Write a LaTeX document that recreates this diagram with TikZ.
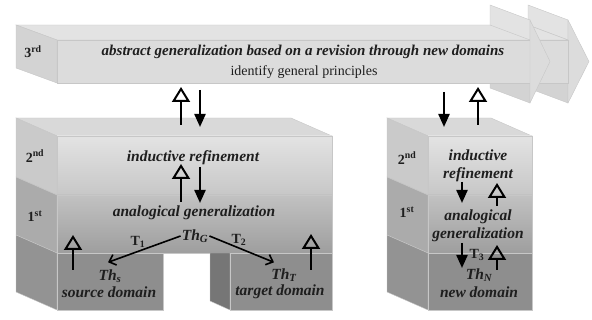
\documentclass[tikz,border=0pt]{standalone}
\usepackage{fontspec}
\setmainfont{Liberation Serif}
\usetikzlibrary{arrows.meta}

\definecolor{bandfront}{HTML}{DCDCDC}
\definecolor{bandtop}{HTML}{E3E3E3}
\definecolor{bandside}{HTML}{D3D3D3}
\definecolor{blocktop}{HTML}{D9D9D9}
\definecolor{sidetwo}{HTML}{CACACA}
\definecolor{sideone}{HTML}{ABABAB}
\definecolor{sidebase}{HTML}{939393}
\definecolor{basefront}{HTML}{8E8E8E}
\definecolor{gapside}{HTML}{767676}
\definecolor{inkgray}{HTML}{1E1E1E}

\begin{document}
\begin{tikzpicture}[x=1pt,y=-1pt,
  face/.style={draw=black!22,line width=0.4pt},
  lvl/.style={font=\fontsize{14}{16}\selectfont\bfseries,text=inkgray},
  ttl/.style={font=\fontsize{15}{17}\selectfont\bfseries\itshape,text=inkgray},
  txt/.style={font=\fontsize{15.5}{18}\selectfont\bfseries\itshape,align=center,text=inkgray},
  tlab/.style={font=\fontsize{14}{16}\selectfont\bfseries,text=inkgray},
  upar/.style={line width=2.2pt,-{Triangle[open,length=15pt,width=18pt,line width=2pt]}},
  dnar/.style={line width=2.2pt,-{Triangle[length=13pt,width=11pt]}},
  tar/.style={line width=1.6pt,-{Straight Barb[length=6pt,width=11pt]}}]
\useasboundingbox (0,0) rectangle (592,320);

% 3rd level band, second head first
\filldraw[face,fill=bandtop] (528,5) -- (568,20) -- (568,40) -- (528,25) -- cycle;
\filldraw[face,fill=bandside] (528,68) -- (568,83) -- (568,103) -- (528,88) -- cycle;
\filldraw[face,fill=bandfront] (568,20) -- (589,61.5) -- (568,103) -- cycle;
\filldraw[face,fill=bandtop] (16,25) -- (528,25) -- (568,40) -- (57,40) -- cycle;
\filldraw[face,fill=bandside] (16,25) -- (57,40) -- (57,83) -- (16,68) -- cycle;
\filldraw[face,fill=bandtop] (490,5) -- (530,20) -- (530,40) -- (490,25) -- cycle;
\filldraw[face,fill=bandside] (490,68) -- (530,83) -- (530,103) -- (490,88) -- cycle;
\filldraw[face,fill=bandfront] (57,40) rectangle (568,83);
\filldraw[face,fill=bandfront] (530,20) -- (550,61.5) -- (530,103) -- cycle;

% left block
\filldraw[face,fill=blocktop] (16,118) -- (291,118) -- (332,136) -- (57,136) -- cycle;
\filldraw[face,fill=sidetwo] (16,118) -- (57,136) -- (57,195) -- (16,177) -- cycle;
\filldraw[face,fill=sideone] (16,177) -- (57,195) -- (57,253) -- (16,235) -- cycle;
\filldraw[face,fill=sidebase] (16,235) -- (57,253) -- (57,310) -- (16,292) -- cycle;
\shadedraw[face,top color=black!11,bottom color=black!22] (57,136) rectangle (332,195);
\shadedraw[face,top color=black!24,bottom color=black!38] (57,195) rectangle (332,253);
\filldraw[face,fill=basefront] (57,253) rectangle (163,310);
\filldraw[face,fill=gapside] (210,253) -- (230,253) -- (230,310) -- (210,301) -- cycle;
\filldraw[face,fill=basefront] (230,253) rectangle (332,310);

% right block
\filldraw[face,fill=blocktop] (387,118) -- (491,118) -- (532,136) -- (428,136) -- cycle;
\filldraw[face,fill=sidetwo] (387,118) -- (428,136) -- (428,195) -- (387,177) -- cycle;
\filldraw[face,fill=sideone] (387,177) -- (428,195) -- (428,253) -- (387,235) -- cycle;
\filldraw[face,fill=sidebase] (387,235) -- (428,253) -- (428,310) -- (387,292) -- cycle;
\shadedraw[face,top color=black!11,bottom color=black!22] (428,136) rectangle (532,195);
\shadedraw[face,top color=black!24,bottom color=black!38] (428,195) rectangle (532,253);
\filldraw[face,fill=basefront] (428,253) rectangle (532,310);

% texts
\node[lvl] (lvlthree) at (33,52) {3\textsuperscript{rd}};
\node[ttl] (title) at (303,52) {abstract generalization based on a revision through new domains};
\node[font=\fontsize{14}{16}\selectfont,text=inkgray] (principles) at (304,72) {identify general principles};

\node[lvl] (lvltwoL) at (35,156) {2\textsuperscript{nd}};
\node[lvl] (lvloneL) at (35,216) {1\textsuperscript{st}};
\node[txt] (inductiveL) at (193,158) {inductive refinement};
\node[txt] (analogL) at (194,213) {analogical generalization};
\node[txt,inner sep=1pt] (thG) at (195,236) {Th\textsubscript{G}};
\node[tlab] (tone) at (138,242) {T\textsubscript{1}};
\node[tlab] (ttwo) at (239,240) {T\textsubscript{2}};
\node[txt,inner sep=1pt] (thS) at (110,276) {Th\textsubscript{s}};
\node[txt] (source) at (109,292) {source domain};
\node[txt,inner sep=1pt] (thT) at (284,275) {Th\textsubscript{T}};
\node[txt] (target) at (280,292) {target domain};

\node[lvl] (lvltwoR) at (407,158) {2\textsuperscript{nd}};
\node[lvl] (lvloneR) at (407,212) {1\textsuperscript{st}};
\node[txt] (inductiveR) at (478,166) {inductive\\refinement};
\node[txt] (analogR) at (478,226) {analogical\\generalization};
\node[tlab] (tthree) at (477,255) {T\textsubscript{3}};
\node[txt,inner sep=1pt] (thN) at (479,275) {Th\textsubscript{N}};
\node[txt] (newdom) at (479,292) {new domain};

% arrows between levels
\draw[upar] (181,125) -- (181,87);
\draw[dnar] (200,90) -- (200,127);
\draw[upar] (181,202) -- (181,164);
\draw[dnar] (200,167) -- (200,203);
\draw[upar] (73,270) -- (73,235);
\draw[upar] (311,270) -- (311,234);
\draw[dnar] (444,92) -- (444,127);
\draw[upar] (478,125) -- (478,87);
\draw[dnar] (462,182) -- (462,203);
\draw[upar] (497,206) -- (497,183);
\draw[dnar] (462,243) -- (462,268);
\draw[upar] (497,270) -- (497,245);

\draw[tar] (thG.west) -- ([xshift=-2pt,yshift=6pt]thS.north);
\draw[tar] (thG.east) -- ([xshift=-10pt,yshift=5pt]thT.north);
\end{tikzpicture}
\end{document}
